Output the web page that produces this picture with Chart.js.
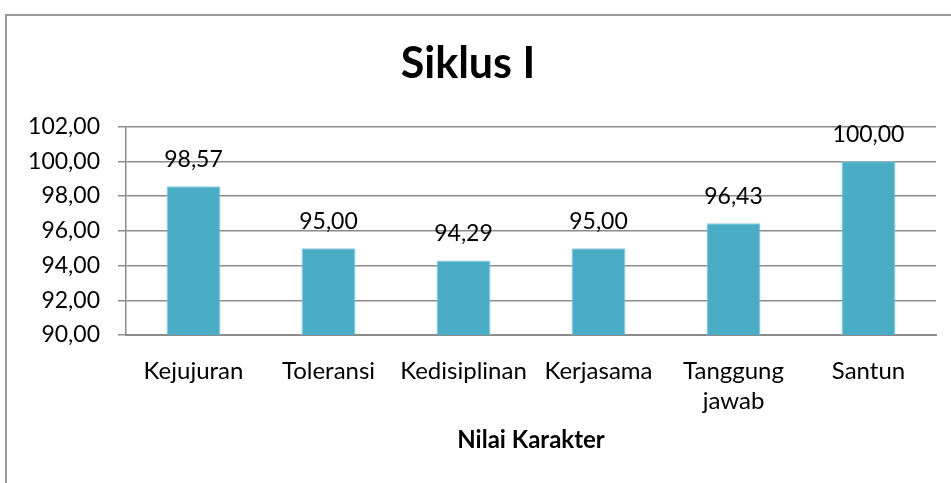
<!DOCTYPE html>
<html>
<head>
<meta charset="utf-8">
<script src="https://cdn.jsdelivr.net/npm/chart.js@4"></script>
<style>
  html, body { margin: 0; padding: 0; background: #fff; overflow: hidden; }
  #frame { position: absolute; left: 5px; top: 14px; width: 1000px; height: 600px;
           border-left: 2px solid #9a9a9a; border-top: 2px solid #9a9a9a; }
  #wrap { position: absolute; left: 0; top: 0; width: 951px; height: 483px; }
</style>
</head>
<body>
<div id="frame"></div>
<div id="wrap"><canvas id="myChart" width="951" height="483"></canvas></div>
<script>
// categories and values
const CATEGORIES = ["Kejujuran", "Toleransi", "Kedisiplinan", "Kerjasama", ["Tanggung", "jawab"], "Santun"];
const VALUES = [98.57, 95.00, 94.29, 95.00, 96.43, 100.00];
const TITLE = "Siklus I";
const X_TITLE = "Nilai Karakter";

const FONT = "Lato";

function fmt(v) {
  return v.toFixed(2).replace(".", ",");
}

// draws the value over each bar
const valueLabels = {
  id: "valueLabels",
  afterDatasetsDraw(chart) {
    const ctx = chart.ctx;
    const meta = chart.getDatasetMeta(0);
    ctx.save();
    ctx.font = "23px " + FONT;
    ctx.fillStyle = "#000";
    ctx.textAlign = "center";
    ctx.textBaseline = "alphabetic";
    meta.data.forEach((bar, i) => {
      ctx.fillText(fmt(VALUES[i]), bar.x, bar.y - 19);
    });
    ctx.restore();
  }
};

function generateGraph() {
  let ctx = document.getElementById("myChart").getContext("2d");
  return new Chart(ctx, {
    type: "bar",
    data: {
      labels: CATEGORIES,
      datasets: [{
        data: VALUES,
        backgroundColor: "#4BACC6",
        borderColor: "#8fd3e3",
        borderWidth: 1,
        barPercentage: 0.4,
        categoryPercentage: 1.0,
      }],
    },
    options: {
      responsive: false,
      animation: false,
      layout: { padding: { left: 0, right: 15, top: 0, bottom: 20 } },
      plugins: {
        legend: { display: false },
        tooltip: { enabled: false },
        title: {
          display: true,
          text: TITLE,
          color: "#000",
          font: { family: FONT, size: 43, weight: "bold", lineHeight: 1.2 },
          padding: { top: 38, bottom: 37 },
        },
      },
      scales: {
        y: {
          min: 90,
          max: 102,
          afterFit(scale) { scale.width = 126; },
          ticks: {
            stepSize: 2,
            color: "#000",
            padding: 18,
            font: { family: FONT, size: 23 },
            callback: (v) => fmt(v),
          },
          grid: { color: "#8c8c8c", lineWidth: 1.5, tickLength: 8 },
          border: { color: "#8c8c8c", width: 1.5 },
        },
        x: {
          afterFit(scale) { scale.height = 128; },
          ticks: {
            color: "#000",
            padding: 13,
            maxRotation: 0,
            autoSkip: false,
            font: { family: FONT, size: 24, lineHeight: 1.25 },
          },
          grid: { display: false },
          border: { color: "#8c8c8c", width: 2 },
          title: {
            display: true,
            text: X_TITLE,
            color: "#000",
            font: { family: FONT, size: 24, weight: "bold", lineHeight: 1.2 },
            padding: { top: 0, bottom: 8 },
          },
        },
      },
    },
    plugins: [valueLabels],
  });
}

generateGraph();
</script>
</body>
</html>
